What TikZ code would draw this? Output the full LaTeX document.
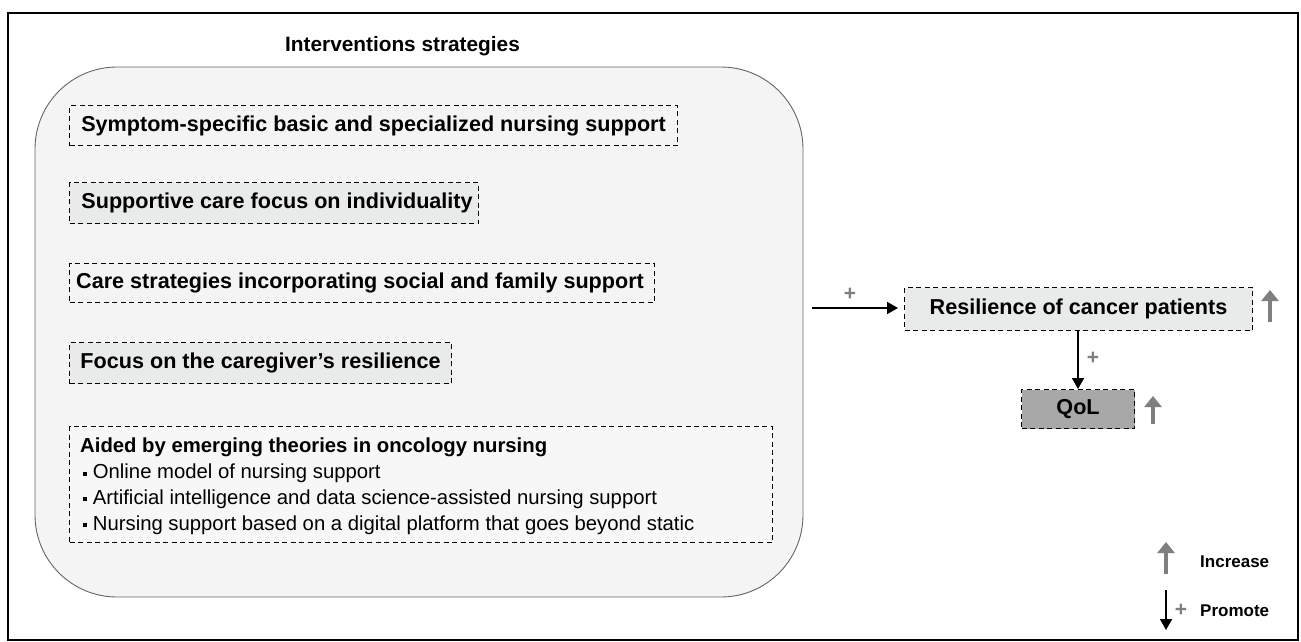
\documentclass[tikz,border=0pt]{standalone}
\usepackage{fontspec}
\setmainfont{Liberation Sans}
\usetikzlibrary{arrows.meta}
\definecolor{panel}{HTML}{F4F4F4}
\definecolor{boxa}{HTML}{F4F4F4}
\definecolor{boxc}{HTML}{F7F7F7}
\definecolor{boxb}{HTML}{E9EAEA}
\definecolor{qol}{HTML}{A8A8A8}
\definecolor{plusgray}{HTML}{7F7F7F}
\newcommand{\sqbul}{\hspace*{3pt}\rule[0.14em]{0.2em}{0.2em} }
\tikzset{
  dbox/.style={draw=black, line width=1.1pt, dash pattern=on 5pt off 3.5pt, inner sep=0pt, anchor=north west},
  btext/.style={font=\bfseries\fontsize{21.6}{24}\selectfont, text=black},
  incr/.style={draw=plusgray, line width=4.5pt, -{Triangle[width=17pt,length=11pt]}},
  prom/.style={draw=black, line width=1.8pt, -{Triangle[width=12pt,length=11pt]}},
  plus/.style={font=\bfseries\fontsize{21}{21}\selectfont, text=plusgray},
  legtext/.style={anchor=west, font=\bfseries\fontsize{17}{19}\selectfont, inner sep=0pt},
}
\begin{document}
\begin{tikzpicture}[x=1pt,y=-1pt]
\useasboundingbox (0,0) rectangle (1301,642);
\fill[white] (0,0) rectangle (1301,642);
\draw[line width=1.3pt] (8,13) rectangle (1298,640);
\node[anchor=west, inner sep=0pt] (title) at (285,46) {\bfseries\fontsize{20.8}{23}\selectfont Interventions strategies};
\draw[draw=gray!80!black, line width=0.9pt, fill=panel, rounded corners=82pt] (35,67) rectangle (803,597);
\node[dbox, fill=boxa, minimum width=608pt, minimum height=40pt] (b1) at (69,105) {};
\node[btext] at (b1.center) {Symptom-specific basic and specialized nursing support};
\node[dbox, fill=boxb, minimum width=409pt, minimum height=41pt] (b2) at (69,182) {};
\node[btext] at ([xshift=3pt]b2.center) {Supportive care focus on individuality};
\node[dbox, fill=boxa, minimum width=585pt, minimum height=39pt] (b3) at (69,263) {};
\node[btext] at ([xshift=-2pt]b3.center) {Care strategies incorporating social and family support};
\node[dbox, fill=boxb, minimum width=382pt, minimum height=41pt] (b4) at (69,342) {};
\node[btext] at (b4.center) {Focus on the caregiver’s resilience};
\node[dbox, fill=boxc, minimum width=703pt, minimum height=116pt] (b5) at (69,426) {};
\node[anchor=north west, align=left, inner sep=0pt, font=\fontsize{20.3}{25.7}\selectfont] (b5t) at (80,438)
 {\textbf{Aided by emerging theories in oncology nursing}\\
  \sqbul Online model of nursing support\\
  \sqbul Artificial intelligence and data science-assisted nursing support\\
  \sqbul Nursing support based on a digital platform that goes beyond static};
\coordinate (a0) at (812,308);
\node[dbox, fill=boxb, minimum width=348pt, minimum height=43pt] (res) at (904,287) {};
\node[btext] at (res.center) {Resilience of cancer patients};
\draw[prom] (a0) -- ([xshift=-6pt]res.west |- a0);
\node[plus] at (850,294) {+};
\draw[incr] (1270,322) -- (1270,290);
\node[dbox, fill=qol, minimum width=113pt, minimum height=39pt] (qol) at (1021,389) {};
\node[btext] at (qol.center) {QoL};
\draw[prom] (res.south -| 1078,0) -- (qol.north -| 1078,0);
\node[plus] at (1093,358) {+};
\draw[incr] (1153,424) -- (1153,396);
% legend
\draw[incr] (1166,574) -- (1166,542);
\node[legtext] (inc) at (1200,562) {Increase};
\draw[prom] (1166,590) -- (1166,630);
\node[plus] at (1181,610) {+};
\node[legtext] (promo) at (1200,611) {Promote};
\end{tikzpicture}
\end{document}
